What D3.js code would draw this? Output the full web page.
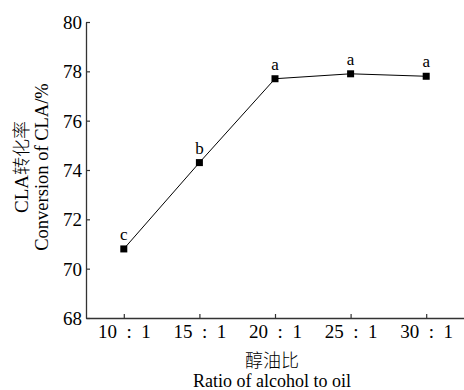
<!DOCTYPE html>
<html>
<head>
<meta charset="utf-8">
<script src="https://cdn.jsdelivr.net/npm/d3@7"></script>
<style>
  body { margin: 0; background: #fff; }
  svg { display: block; }
</style>
</head>
<body>
<svg id="chart" width="464" height="390"></svg>
<script>
const categories = ["10 : 1", "15 : 1", "20 : 1", "25 : 1", "30 : 1"];
const conversion = [70.8, 74.3, 77.7, 77.9, 77.8];
const sigLetters = ["c", "b", "a", "a", "a"];
const yTicks = [68, 70, 72, 74, 76, 78, 80];

const SERIF = '"Liberation Serif", "Times New Roman", "DejaVu Serif", serif';
const CJK = '"Noto Sans CJK SC", sans-serif';

const svg = d3.select("#chart");
const mLeft = 86, mRight = 464, mTop = 22, mBottom = 318;

const x = d3.scalePoint().domain(categories).range([mLeft, mRight]).padding(0.5);
const y = d3.scaleLinear().domain([68, 80]).range([mBottom, mTop]);

const axisColor = "#333";

// Y axis
const yAxis = svg.append("g").attr("transform", `translate(${mLeft},0)`)
  .call(d3.axisLeft(y).tickValues(yTicks).tickSizeInner(-4).tickSizeOuter(0).tickPadding(4));
yAxis.attr("font-family", null).attr("font-size", null);
yAxis.select(".domain").attr("stroke", axisColor).attr("stroke-width", 1.3);
yAxis.selectAll(".tick line").attr("stroke", axisColor).attr("stroke-width", 1.2);
yAxis.selectAll(".tick text").style("font-family", SERIF).style("font-size", "19px")
  .attr("dy", "0.34em").attr("fill", "#000");

// X axis
const xAxis = svg.append("g").attr("transform", `translate(0,${mBottom})`)
  .call(d3.axisBottom(x).tickSizeInner(-4).tickSizeOuter(0).tickPadding(7));
xAxis.attr("font-family", null).attr("font-size", null);
xAxis.select(".domain").attr("stroke", axisColor).attr("stroke-width", 1.3);
xAxis.selectAll(".tick line").attr("stroke", axisColor).attr("stroke-width", 1.2);
xAxis.selectAll(".tick text").style("font-family", SERIF).style("font-size", "19px")
  .attr("fill", "#000").style("white-space", "pre")
  .text(d => d.replace(" : ", "  :  "));

// Line
const data = categories.map((c, i) => ({ c, v: conversion[i], s: sigLetters[i] }));
svg.append("path").datum(data)
  .attr("fill", "none").attr("stroke", "#000").attr("stroke-width", 1)
  .attr("d", d3.line().x(d => x(d.c)).y(d => y(d.v)));

// Markers
const ms = 7;
svg.selectAll("rect.m").data(data).join("rect")
  .attr("class", "m")
  .attr("x", d => x(d.c) - ms / 2).attr("y", d => y(d.v) - ms / 2)
  .attr("width", ms).attr("height", ms).attr("fill", "#000");

// Significance letters
svg.selectAll("text.sig").data(data).join("text")
  .attr("class", "sig")
  .attr("x", d => x(d.c)).attr("y", d => y(d.v) - 9)
  .attr("text-anchor", "middle").style("font-family", SERIF).style("font-size", "17px")
  .text(d => d.s);

// X axis title
svg.append("text").attr("x", 272).attr("y", 367).attr("text-anchor", "middle")
  .style("font-family", CJK).style("font-size", "18px").style("font-weight", 300).text("醇油比");
svg.append("text").attr("x", 272).attr("y", 387).attr("text-anchor", "middle")
  .style("font-family", SERIF).style("font-size", "18px").text("Ratio of alcohol to oil");

// Y axis titles
const cy = 167;
const t1 = svg.append("text").attr("transform", `translate(28,${cy}) rotate(-90)`)
  .attr("text-anchor", "middle").style("font-size", "19px");
t1.append("tspan").style("font-family", SERIF).text("CLA");
t1.append("tspan").style("font-family", CJK).style("font-size", "18px").style("font-weight", 300).text("转化率");
svg.append("text").attr("transform", `translate(48,${cy}) rotate(-90)`)
  .attr("text-anchor", "middle").style("font-family", SERIF).style("font-size", "18.5px")
  .text("Conversion of CLA/%");
</script>
</body>
</html>
